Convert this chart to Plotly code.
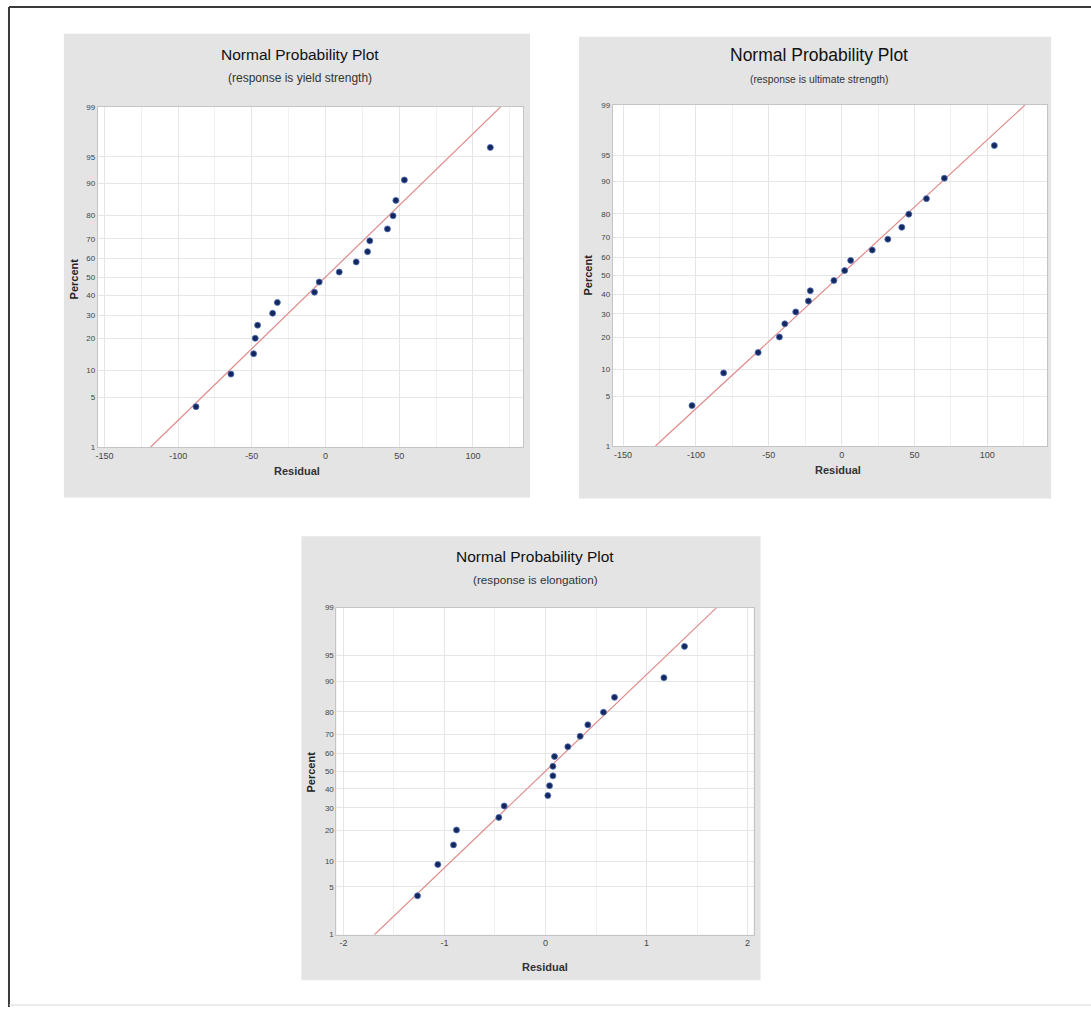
import plotly.graph_objects as go
from statistics import NormalDist

W, H = 1091, 1012

# ---------------- data ----------------
percent = [3.8, 9.2, 14.7, 20.1, 25.5, 31.0, 36.4, 41.8, 47.3,
           52.7, 58.2, 63.6, 69.0, 74.5, 79.9, 85.3, 90.8, 96.2]

yield_resid = [-87.9, -64.2, -48.8, -47.7, -46.1, -35.9, -32.7, -7.5, -4.3,
               9.3, 20.8, 28.5, 30.0, 42.0, 45.8, 47.7, 53.5, 111.8]
ultimate_resid = [-102.7, -81.0, -57.3, -42.7, -39.0, -31.5, -22.8, -21.5, -5.3,
                  2.1, 6.2, 21.0, 31.7, 41.3, 46.1, 58.2, 70.5, 104.8]
elong_resid = [-1.267, -1.066, -0.911, -0.881, -0.462, -0.409, 0.023, 0.040, 0.073,
               0.073, 0.089, 0.221, 0.343, 0.419, 0.574, 0.683, 1.172, 1.376]

fit_mean = [0.0, -1.0, 0.0]
fit_sigma = [51.0, 54.5, 0.728]

y_tick_pct = [1, 5, 10, 20, 30, 40, 50, 60, 70, 80, 90, 95, 99]
x_ticks_strength = [-150, -100, -50, 0, 50, 100]
x_ticks_elong = [-2, -1, 0, 1, 2]

plot_title = "Normal Probability Plot"
subtitles = ["(response is yield strength)",
             "(response is ultimate strength)",
             "(response is elongation)"]
x_label = "Residual"
y_label = "Percent"

# ---------------- helpers ----------------
nd = NormalDist()
def z(p):
    return nd.inv_cdf(p / 100.0)

def fx(px):
    return px / W

def fy(py):
    return 1 - py / H

FONT = "Liberation Sans, Arial, sans-serif"

# panel geometry in pixels: plot area (l, r, t, b), gray box (l, r, t, b), x range
panels = [
    dict(area=(96, 522, 104, 447), box=(62, 529, 30, 498), xr=(-154.5, 134),
         xt=x_ticks_strength, data=yield_resid,
         title=(299, 51, 15.5), sub=(299, 75, 12), xlab=(296, 471), ylab=(72, 277)),
    dict(area=(612, 1047, 102, 446), box=(578, 1051, 33, 499), xr=(-157, 141),
         xt=x_ticks_strength, data=ultimate_resid,
         title=(819, 51, 17.5), sub=(819, 76, 10.3), xlab=(838, 470), ylab=(587, 273)),
    dict(area=(335, 753, 609, 939), box=(300, 760, 537, 985), xr=(-2.07, 2.06),
         xt=x_ticks_elong, data=elong_resid,
         title=(534, 557, 15.5), sub=(534, 581, 11.7), xlab=(544, 972), ylab=(310, 775)),
]

fig = go.Figure()
shapes = []
annotations = []

yt_vals = [z(p) for p in y_tick_pct]
yt_text = [str(p) for p in y_tick_pct]
yrange = [z(1), z(99)]

for i, pnl in enumerate(panels):
    n = "" if i == 0 else str(i + 1)
    xa, ya = "x" + n, "y" + n
    l, r, t, b = pnl["area"]
    bl, br, bt, bb = pnl["box"]

    # gray panel background, then white plotting area
    shapes.append(dict(type="rect", xref="paper", yref="paper",
                       x0=fx(bl), x1=fx(br), y0=fy(bb), y1=fy(bt),
                       fillcolor="#e4e4e4", line=dict(width=0), layer="below"))
    shapes.append(dict(type="rect", xref="paper", yref="paper",
                       x0=fx(l), x1=fx(r), y0=fy(b), y1=fy(t),
                       fillcolor="white", line=dict(width=0), layer="below"))

    # fitted normal line
    dist = NormalDist(fit_mean[i], fit_sigma[i])
    lx = [dist.inv_cdf(0.01), dist.inv_cdf(0.99)]
    ly = [z(1), z(99)]
    fig.add_trace(go.Scatter(x=lx, y=ly, mode="lines", xaxis=xa, yaxis=ya,
                             line=dict(color="#e08a8a", width=1.2),
                             showlegend=False, hoverinfo="skip"))
    # residual points
    fig.add_trace(go.Scatter(x=pnl["data"], y=[z(p) for p in percent], mode="markers",
                             xaxis=xa, yaxis=ya,
                             marker=dict(size=6, color="#15285e",
                                         line=dict(color="#4d6fb8", width=0.8)),
                             showlegend=False))

    xstep = pnl["xt"][1] - pnl["xt"][0]
    fig.update_layout(**{
        "xaxis" + n: dict(domain=[fx(l), fx(r)], anchor=ya, range=list(pnl["xr"]),
                          tickvals=pnl["xt"], ticktext=[str(v) for v in pnl["xt"]],
                          showgrid=True, gridcolor="#e6e6e6", gridwidth=1,
                          minor=dict(dtick=xstep / 2, tick0=0, showgrid=True,
                                     gridcolor="#f0f0f0"),
                          zeroline=False, showline=True, mirror=True,
                          linecolor="#c4c4c4", linewidth=1, ticks="",
                          tickfont=dict(size=9, color="#444444", family=FONT),
                          fixedrange=True),
        "yaxis" + n: dict(domain=[fy(b), fy(t)], anchor=xa, range=yrange,
                          tickvals=yt_vals, ticktext=yt_text,
                          showgrid=True, gridcolor="#e6e6e6", gridwidth=1,
                          zeroline=False, showline=True, mirror=True,
                          linecolor="#c4c4c4", linewidth=1, ticks="",
                          tickfont=dict(size=8, color="#444444", family=FONT),
                          fixedrange=True),
    })

    tx, ty, ts = pnl["title"]
    annotations.append(dict(text=plot_title, x=fx(tx), y=fy(ty), xref="paper", yref="paper",
                            showarrow=False, xanchor="center", yanchor="middle",
                            font=dict(size=ts, color="#111111", family=FONT)))
    sx, sy, ss = pnl["sub"]
    annotations.append(dict(text=subtitles[i], x=fx(sx), y=fy(sy), xref="paper", yref="paper",
                            showarrow=False, xanchor="center", yanchor="middle",
                            font=dict(size=ss, color="#333333", family=FONT)))
    lx_, ly_ = pnl["xlab"]
    annotations.append(dict(text="<b>" + x_label + "</b>", x=fx(lx_), y=fy(ly_),
                            xref="paper", yref="paper", showarrow=False,
                            xanchor="center", yanchor="middle",
                            font=dict(size=11, color="#333333", family=FONT)))
    px_, py_ = pnl["ylab"]
    annotations.append(dict(text="<b>" + y_label + "</b>", x=fx(px_), y=fy(py_),
                            xref="paper", yref="paper", showarrow=False, textangle=-90,
                            xanchor="center", yanchor="middle",
                            font=dict(size=11, color="#222222", family=FONT)))

# figure frame
shapes.append(dict(type="line", xref="paper", yref="paper",
                   x0=fx(7), x1=1, y0=fy(3), y1=fy(3), line=dict(color="#3a3a3a", width=2)))
shapes.append(dict(type="line", xref="paper", yref="paper",
                   x0=fx(7), x1=fx(7), y0=0, y1=fy(3), line=dict(color="#3a3a3a", width=2)))
shapes.append(dict(type="line", xref="paper", yref="paper",
                   x0=fx(7), x1=1, y0=fy(1010), y1=fy(1010), line=dict(color="#d8d8d8", width=1)))

fig.update_layout(width=W, height=H, margin=dict(l=0, r=0, t=0, b=0),
                  paper_bgcolor="white", plot_bgcolor="white",
                  shapes=shapes, annotations=annotations,
                  font=dict(family=FONT), showlegend=False)

fig.write_html("out.html", config={"displayModeBar": False},
               post_script="document.body.style.margin='0px';document.body.style.padding='0px';")
